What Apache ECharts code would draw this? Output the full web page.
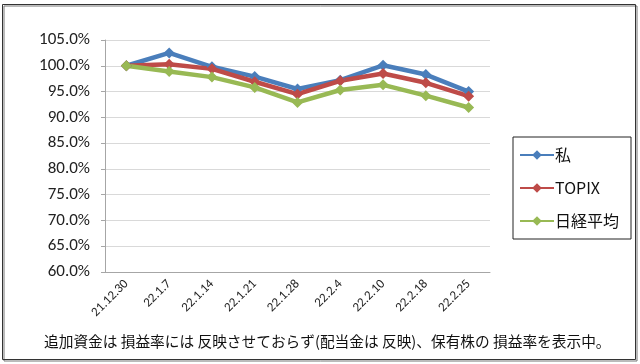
<!DOCTYPE html>
<html><head><meta charset="utf-8">
<script src="https://cdn.jsdelivr.net/npm/echarts@6/dist/echarts.min.js"></script>
<style>html,body{margin:0;padding:0;background:#fff}#c{width:640px;height:364px}</style>
</head><body><div id="c"></div>
<script>
const categories = ['21.12.30','22.1.7','22.1.14','22.1.21','22.1.28','22.2.4','22.2.10','22.2.18','22.2.25'];
const mine   = [100.0, 102.5, 99.8, 97.9, 95.5, 97.2, 100.1, 98.3, 95.0];
const topix  = [100.0, 100.3, 99.4, 96.9, 94.5, 97.1, 98.5, 96.7, 94.1];
const nikkei = [100.0, 98.9, 97.8, 95.8, 92.9, 95.3, 96.3, 94.2, 91.9];
const seriesNames = ['私','TOPIX','日経平均'];
const colors = ['#4A7EBB','#BE4B48','#98B954'];
const note = '追加資金は 損益率には 反映させておらず(配当金は 反映)、保有株の 損益率を表示中。';

const font = 'Calibri, Carlito, Lato, "Noto Sans", sans-serif';
const chart = echarts.init(document.getElementById('c'));
const mk = (name, data, color) => ({
  name, type: 'line', data, color,
  symbol: 'diamond', symbolSize: 11,
  lineStyle: {width: 4.5, color},
  itemStyle: {color},
  animation: false
});
chart.setOption({
  animation: false,
  backgroundColor: '#fff',
  grid: {left: 105, right: 150, top: 40, bottom: 92},
  xAxis: {
    type: 'category', data: categories, boundaryGap: true,
    axisLine: {lineStyle: {color: '#A6A6A6'}},
    axisTick: {show: false},
    axisLabel: {rotate: 45, fontSize: 13, color: '#222', fontFamily: font, margin: 10}
  },
  yAxis: {
    type: 'value', min: 60, max: 105, interval: 5,
    axisLine: {show: true, lineStyle: {color: '#A6A6A6'}},
    axisTick: {show: true, length: 4, lineStyle: {color: '#A6A6A6'}},
    splitLine: {lineStyle: {color: '#D9D9D9'}},
    axisLabel: {fontSize: 17, color: '#222', fontFamily: font, margin: 15,
      formatter: v => v.toFixed(1) + '%'}
  },
  legend: {
    orient: 'vertical', left: 513, top: 137,
    data: seriesNames,
    itemWidth: 34, itemHeight: 12, itemGap: 17,
    borderColor: '#222', borderWidth: 1,
    padding: [10, 12, 10, 6],
    textStyle: {fontSize: 16, color: '#111', fontFamily: '"Noto Sans CJK JP", ' + font, padding: [0,0,0,-4]}
  },
  series: [mk(seriesNames[0], mine, colors[0]), mk(seriesNames[1], topix, colors[1]), mk(seriesNames[2], nikkei, colors[2])],
  graphic: [
    {type: 'rect', shape: {x: 2.5, y: 4.5, width: 633, height: 355}, silent: true,
     style: {fill: 'none', stroke: '#333', lineWidth: 1, shadowColor: '#777', shadowOffsetX: 1.5, shadowOffsetY: 1.5}},
    {type: 'text', left: 44, top: 334,
     style: {text: note, font: '14.7px "Noto Sans CJK JP"', fill: '#111'}}
  ]
});
</script></body></html>
